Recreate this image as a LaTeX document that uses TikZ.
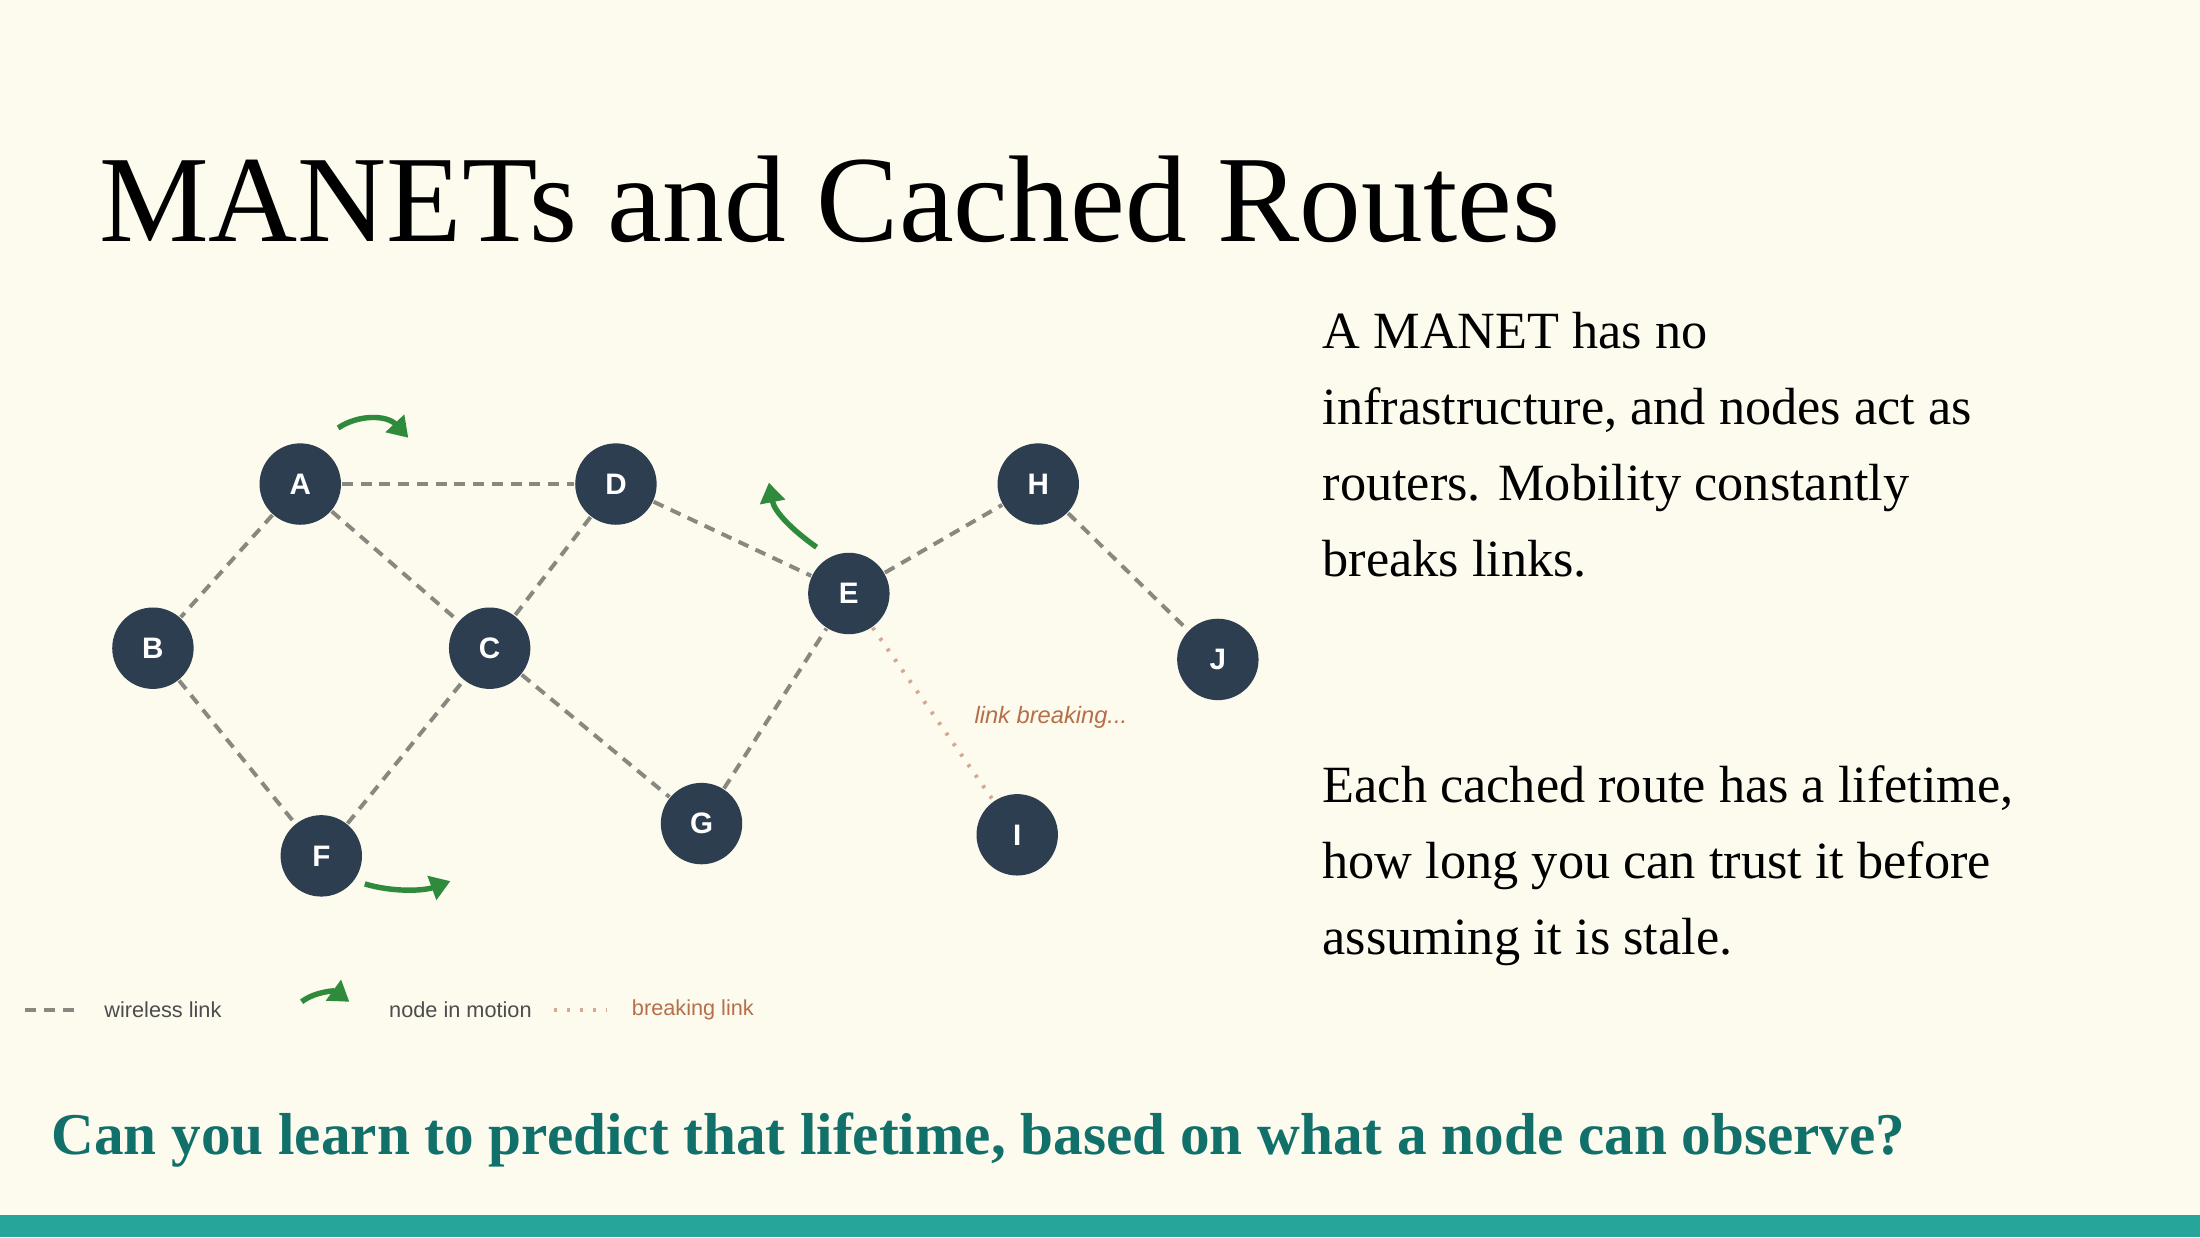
\documentclass[tikz,border=0pt]{standalone}
\usepackage{fontspec}
\setmainfont{Liberation Serif}
\setsansfont{Liberation Sans}
\usetikzlibrary{arrows.meta}
\definecolor{bg}{HTML}{FDFAEE}
\definecolor{nd}{HTML}{2C3E50}
\definecolor{gr}{HTML}{2E8B3C}
\definecolor{tl}{HTML}{11706A}
\definecolor{bar}{HTML}{26A69A}
\definecolor{br}{HTML}{B5704A}
\definecolor{lk}{HTML}{888880}
\begin{document}
\begin{tikzpicture}[x=0.01cm,y=-0.01cm,
  nd/.style={circle,fill=nd,minimum size=0.58cm,inner sep=0pt,text=white,font=\sffamily\bfseries\fontsize{6}{7}\selectfont},
  wl/.style={lk,line width=0.8pt,dash pattern=on 2.2pt off 1.6pt},
  bl/.style={br!60,line width=0.8pt,dash pattern=on 0.6pt off 2pt},
  mv/.style={gr,line width=1.1pt,-{Triangle[length=4pt,width=5pt]}},
  lg/.style={font=\sffamily\fontsize{4.4}{5}\selectfont,anchor=west}]
\fill[bg] (0,0) rectangle (1568,882);
\useasboundingbox (0,0) rectangle (1568,882);
\fill[bar] (0,866) rectangle (1568,882);
\node[anchor=base west,font=\fontsize{25}{30}\selectfont,inner sep=0] (title) at (70,172) {MANETs and Cached Routes};
\node[anchor=north west,align=left,font=\fontsize{10.6}{15.4}\selectfont,inner sep=0] (t1) at (942,222) {A MANET has no\\infrastructure, and nodes act as\\routers. Mobility constantly\\breaks links.};
\node[anchor=north west,align=left,font=\fontsize{10.6}{15.4}\selectfont,inner sep=0] (t2) at (942,545) {Each cached route has a lifetime,\\how long you can trust it before\\assuming it is stale.};
\node[anchor=base west,text=tl,font=\bfseries\fontsize{12}{14}\selectfont,inner sep=0] (q) at (36,823) {Can you learn to predict that lifetime, based on what a node can observe?};
\node[nd] (A) at (214,345) {A};
\node[nd] (B) at (109,462) {B};
\node[nd] (C) at (349,462) {C};
\node[nd] (D) at (439,345) {D};
\node[nd] (E) at (605,423) {E};
\node[nd] (H) at (740,345) {H};
\node[nd] (J) at (868,470) {J};
\node[nd] (F) at (229,610) {F};
\node[nd] (G) at (500,587) {G};
\node[nd] (I) at (725,595) {I};
\begin{scope}[on background layer/.try]
\end{scope}
\foreach \a/\b in {A/D,A/B,A/C,D/C,D/E,E/H,H/J,B/F,F/C,C/G,G/E}
  \draw[wl] (\a) -- (\b);
\draw[bl] (E) -- (I);
\node[text=br,font=\sffamily\itshape\fontsize{4.8}{6}\selectfont] (lb) at (749,511) {link breaking...};
\coordinate (a1) at (241,305); \coordinate (a2) at (291,312);
\draw[mv] (a1) .. controls (256,295) and (276,296) .. (a2);
\coordinate (e1) at (582,390); \coordinate (e2) at (548,344);
\draw[mv] (e1) .. controls (565,378) and (552,365) .. (e2);
\coordinate (f1) at (260,630); \coordinate (f2) at (321,628);
\draw[mv] (f1) .. controls (280,636) and (302,635) .. (f2);
\coordinate (l1) at (18,720); \coordinate (l2) at (58,720);
\draw[wl] (l1) -- (l2);
\node[lg,text=black!70] (lw) at (62,720) {wireless link};
\coordinate (m1) at (215,714); \coordinate (m2) at (249,714);
\draw[mv] (m1) .. controls (224,707) and (238,706) .. (m2);
\node[lg,text=black!70] (lm) at (265,720) {node in motion};
\coordinate (b1) at (395,720); \coordinate (b2) at (432,720);
\draw[bl] (b1) -- (b2);
\node[lg,text=br] (lbk) at (438,720) {breaking link};
\end{tikzpicture}
\end{document}
